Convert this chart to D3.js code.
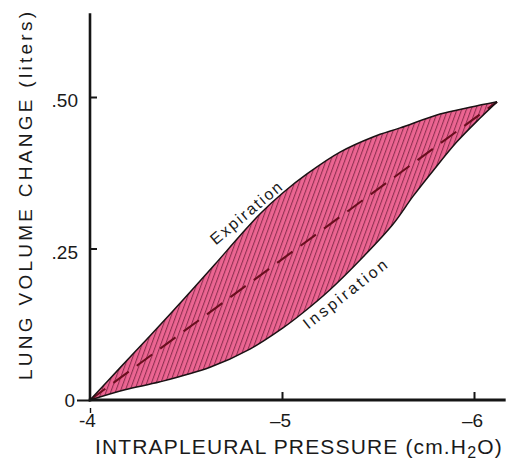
<!DOCTYPE html>
<html>
<head>
<meta charset="utf-8">
<script src="https://cdn.jsdelivr.net/npm/d3@7"></script>
<style>
  html, body { margin: 0; padding: 0; background: #fff; }
  svg { display: block; }
  text { font-family: "Liberation Sans", Arial, Helvetica, sans-serif; fill: #1a1a1a; }
</style>
</head>
<body>
<svg id="chart" width="506" height="461"></svg>
<script>
// Pressure–volume loop of the lung: intrapleural pressure (cm H2O) vs lung volume change (liters)

// Expiration limb (upper curve)
const expirationPressure = [-4.000, -4.156, -4.313, -4.484, -4.651, -4.781, -4.885, -5.005, -5.130, -5.302, -5.474, -5.615, -5.823, -5.979, -6.120];
const expirationVolume   = [0.000, 0.053, 0.106, 0.165, 0.224, 0.271, 0.307, 0.342, 0.373, 0.409, 0.434, 0.449, 0.472, 0.483, 0.492];

// Inspiration limb (lower curve)
const inspirationPressure = [-4.000, -4.182, -4.365, -4.625, -4.833, -5.005, -5.109, -5.250, -5.422, -5.578, -5.682, -5.786, -5.911, -6.031, -6.120];
const inspirationVolume   = [0.000, 0.017, 0.030, 0.054, 0.084, 0.119, 0.144, 0.182, 0.236, 0.290, 0.336, 0.378, 0.426, 0.465, 0.492];

// Straight compliance line joining the loop's end points
const compliancePressure = [-4.000, -6.120];
const complianceVolume   = [0.000, 0.492];

// Axis ticks
const xTickValues = [-4, -5, -6];
const xTickLabels = ["-4", "\u20135", "\u20136"];
const yTickValues = [0, 0.25, 0.5];
const yTickLabels = ["0", ".25", ".50"];

const svg = d3.select("#chart");

const x = d3.scaleLinear().domain([-4, -6]).range([90, 474]);
const y = d3.scaleLinear().domain([0, 0.5]).range([400, 97]);

// Hatched pink fill
const defs = svg.append("defs");
const pat = defs.append("pattern")
  .attr("id", "hatch")
  .attr("patternUnits", "userSpaceOnUse")
  .attr("width", 4.4)
  .attr("height", 10)
  .attr("patternTransform", "rotate(20)");
pat.append("rect").attr("width", 4.4).attr("height", 10).attr("fill", "#ec6592");
pat.append("line")
  .attr("x1", 0.6).attr("x2", 0.6).attr("y1", 0).attr("y2", 10)
  .attr("stroke", "#5e1530").attr("stroke-width", 0.75);

const upper = d3.zip(expirationPressure, expirationVolume);
const lower = d3.zip(inspirationPressure, inspirationVolume);

const line = d3.line()
  .x(d => x(d[0]))
  .y(d => y(d[1]))
  .curve(d3.curveCatmullRom.alpha(0.5));

// Sample a limb's rendered curve so the two limbs can be joined into one closed region
function sample(pathD, n) {
  const tmp = svg.append("path").attr("d", pathD).attr("visibility", "hidden");
  const node = tmp.node();
  const L = node.getTotalLength();
  const pts = [];
  for (let i = 0; i <= n; i++) {
    const pt = node.getPointAtLength(L * i / n);
    pts.push([pt.x, pt.y]);
  }
  tmp.remove();
  return pts;
}
const upPts = sample(line(upper), 240);
const loPts = sample(line(lower), 240);
const loop = upPts.concat(loPts.reverse());
svg.append("path")
  .attr("d", "M" + loop.map(p => p[0].toFixed(2) + "," + p[1].toFixed(2)).join("L") + "Z")
  .attr("fill", "url(#hatch)");

// Dashed compliance line
svg.append("path")
  .attr("d", d3.line().x(d => x(d[0])).y(d => y(d[1]))(d3.zip(compliancePressure, complianceVolume)))
  .attr("fill", "none")
  .attr("stroke", "#6a0e1e")
  .attr("stroke-width", 2.1)
  .attr("stroke-dasharray", "19,10");

// Loop outlines
[upper, lower].forEach(limb => {
  svg.append("path")
    .attr("d", line(limb))
    .attr("fill", "none")
    .attr("stroke", "#1a1214")
    .attr("stroke-width", 1.5);
});

// Y axis
const yAxisTop = 0.638;
svg.append("line")
  .attr("x1", x(-4)).attr("x2", x(-4))
  .attr("y1", y(yAxisTop)).attr("y2", y(0) + 1.5)
  .attr("stroke", "#151515").attr("stroke-width", 2.6);

const yAxis = d3.axisLeft(y).tickValues(yTickValues)
  .tickFormat((d, i) => yTickLabels[i]).tickSizeOuter(0);
const gy = svg.append("g").attr("transform", `translate(${x(-4)},0)`).call(yAxis);
gy.select(".domain").remove();
gy.selectAll(".tick line")
  .attr("stroke", "#151515").attr("stroke-width", 2)
  .attr("x1", d => d === 0 ? -13 : 0)
  .attr("x2", d => d === 0 ? 0 : 7);
gy.selectAll(".tick text")
  .attr("x", d => d === 0 ? -15 : -12)
  .attr("dy", "0.36em")
  .attr("transform", d => d === 0 ? "translate(0,0)" : "translate(0,3)")
  .style("font-size", "19px")
  .style("font-family", "Liberation Sans, Arial, sans-serif")
  .attr("fill", "#1a1a1a");

// X axis
svg.append("line")
  .attr("x1", x(-4) - 1.3).attr("x2", x(-6.165))
  .attr("y1", y(0)).attr("y2", y(0))
  .attr("stroke", "#151515").attr("stroke-width", 3);

const xAxis = d3.axisBottom(x).tickValues(xTickValues)
  .tickFormat((d, i) => xTickLabels[i]).tickSizeOuter(0);
const gx = svg.append("g").attr("transform", `translate(0,${y(0)})`).call(xAxis);
gx.select(".domain").remove();
gx.selectAll(".tick line")
  .attr("stroke", "#151515")
  .attr("y1", d => d === -4 ? 8 : -8)
  .attr("y2", d => d === -4 ? 13 : 0)
  .attr("stroke-width", d => d === -4 ? 1.4 : 2);
gx.selectAll(".tick text")
  .attr("y", 27)
  .attr("dy", 0)
  .attr("x", d => d === -4 ? -3 : -2)
  .style("font-size", "19px")
  .style("font-family", "Liberation Sans, Arial, sans-serif")
  .attr("fill", "#1a1a1a");

// Axis titles
svg.append("text")
  .attr("transform", "translate(32,196) rotate(-90)")
  .attr("text-anchor", "middle")
  .style("font-size", "19px")
  .attr("textLength", 368)
  .attr("lengthAdjust", "spacing")
  .text("LUNG  VOLUME  CHANGE  (liters)");

const xTitle = svg.append("text")
  .attr("x", 95).attr("y", 454)
  .style("font-size", "21px");
xTitle.append("tspan").text("INTRAPLEURAL  PRESSURE (cm.H");
xTitle.append("tspan").attr("dy", 4).style("font-size", "16px").text("2");
xTitle.append("tspan").attr("dy", -4).text("O)");
// Spread letters so the title spans the axis width
{
  const target = 408;
  const w = xTitle.node().getComputedTextLength();
  const n = "INTRAPLEURAL  PRESSURE (cm.H2O)".length - 1;
  xTitle.style("letter-spacing", Math.max(0, (target - w) / n).toFixed(2) + "px");
}

// Limb labels
svg.append("text")
  .attr("transform", "translate(246,213) rotate(-40)")
  .attr("text-anchor", "middle")
  .attr("dominant-baseline", "central")
  .style("font-size", "16px")
  .attr("textLength", 88)
  .attr("lengthAdjust", "spacing")
  .text("Expiration");

svg.append("text")
  .attr("transform", "translate(345,294) rotate(-38)")
  .attr("text-anchor", "middle")
  .attr("dominant-baseline", "central")
  .style("font-size", "16px")
  .attr("textLength", 102)
  .attr("lengthAdjust", "spacing")
  .text("Inspiration");
</script>
</body>
</html>
